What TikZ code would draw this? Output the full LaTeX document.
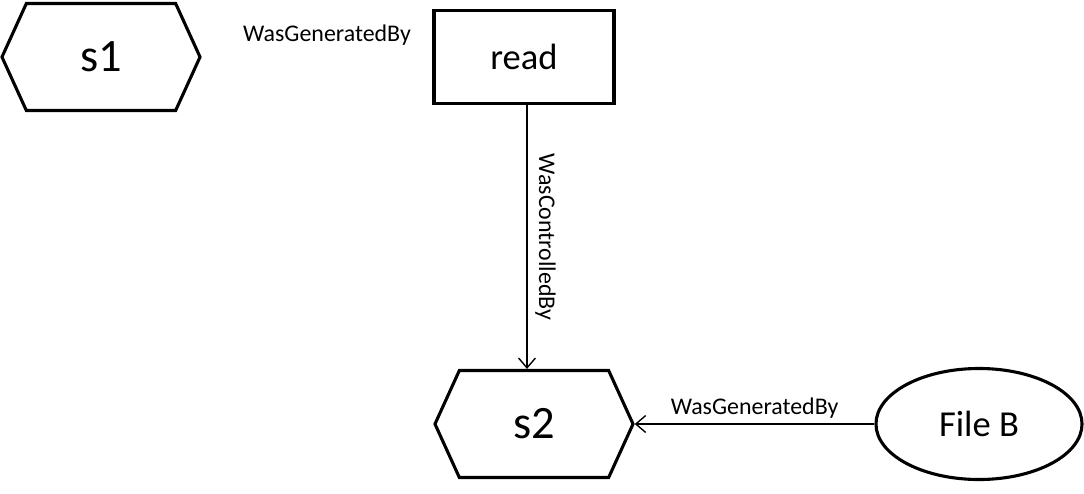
\documentclass[tikz,border=0pt]{standalone}
\usepackage{fontspec}
\setmainfont{Carlito}
\usetikzlibrary{arrows.meta,shapes.symbols,shapes.geometric,positioning}

\begin{document}
\begin{tikzpicture}[x=0.025cm,y=-0.025cm,
    hexnode/.style={draw, line width=2.2pt, signal, signal to=west and east, signal pointer angle=131,
        minimum width=4.95cm, minimum height=2.675cm, inner sep=0pt, font=\fontsize{33}{36}\selectfont},
    procnode/.style={draw, line width=2.2pt, minimum width=4.5cm, minimum height=2.325cm, font=\fontsize{26}{30}\selectfont},
    filenode/.style={draw, ellipse, line width=2.2pt, minimum width=5.15cm, minimum height=2.775cm, font=\fontsize{26}{30}\selectfont},
    rel/.style={-{Straight Barb[length=7pt,width=12pt]}, line width=1pt},
    lbl/.style={font=\fontsize{17}{20}\selectfont}]
        \useasboundingbox (0,0) rectangle (1084,493);

        % Artifacts and process
        \node[hexnode] (s1) at (101,57) {s1};
        \node[procnode] (read) at (524,57) {read};
        \node[hexnode] (s2) at (534,424) {s2};
        \node[filenode] (fileb) at (979,424) {File B};

        % Free label
        \node[lbl] (gen1) at (327,35) {WasGeneratedBy};

        % Relations
        \draw[rel] (read.south -| 527,0) -- (s2.north -| 527,0) node[midway, above=2pt, sloped, lbl] {WasControlledBy};
        \draw[rel] (fileb.west) -- (s2.east) node[midway, above, lbl] {WasGeneratedBy};
\end{tikzpicture}
\end{document}
